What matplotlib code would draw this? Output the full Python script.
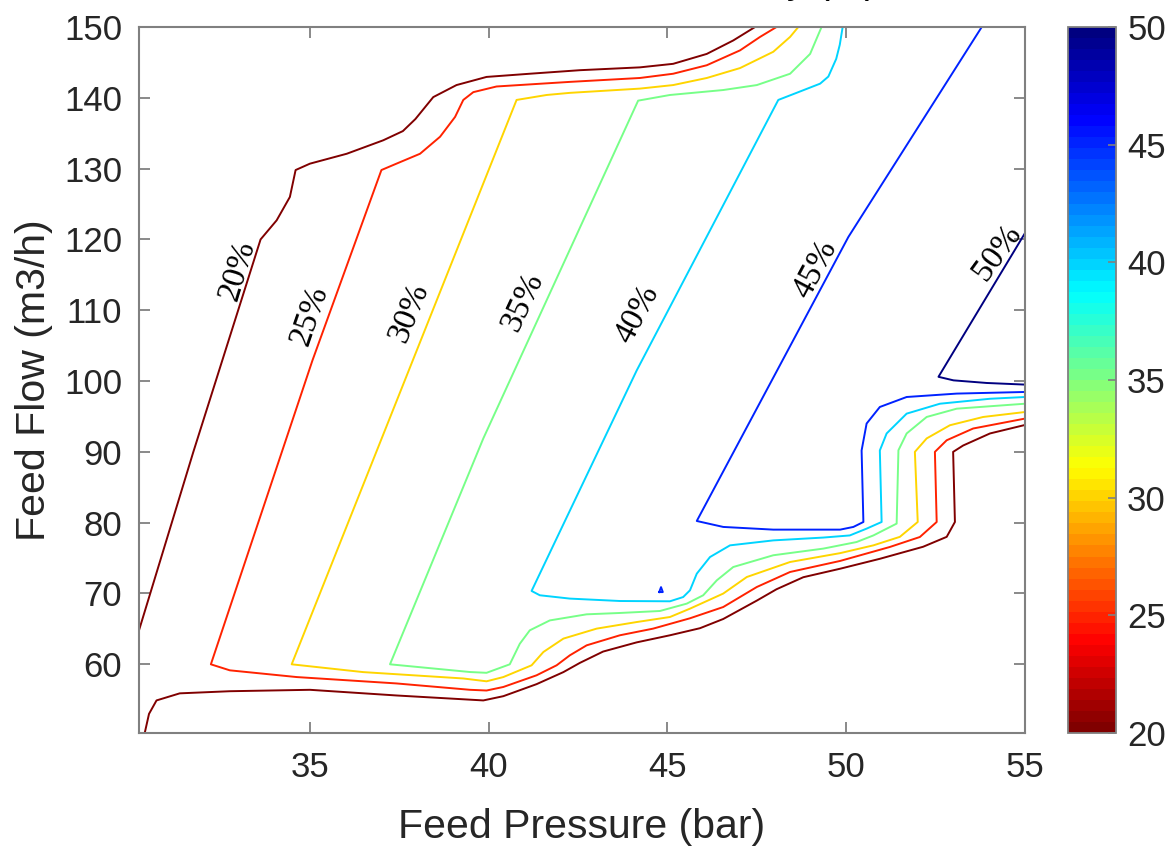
import numpy as np
import matplotlib
matplotlib.use("Agg")
import matplotlib.pyplot as plt
from matplotlib.colors import ListedColormap, Normalize
from matplotlib.cm import ScalarMappable

# ---------- Data (Feed Pressure [bar] vs Feed Flow [m3/h]) ----------
levels = [20, 25, 30, 35, 40, 45, 50]

c20a_x = [30.22, 31.74, 33.62, 34.07, 34.44, 34.60, 35.00, 36.03, 37.05, 37.60, 37.95, 38.45,
          39.10, 39.94, 41.15, 42.55, 44.23, 45.16, 46.10, 46.84, 47.45]
c20a_y = [64.8, 90.0, 120.0, 122.7, 126.0, 129.8, 130.7, 132.1, 134.0, 135.3, 137.0, 140.1,
          141.8, 142.95, 143.4, 143.9, 144.3, 144.8, 146.2, 148.1, 150.0]

c20b_x = [30.38, 30.50, 30.71, 31.36, 32.76, 35.00, 37.42, 39.85, 40.41, 41.34, 42.09, 42.55,
          43.20, 44.14, 45.07, 45.91, 46.56, 47.50, 48.05, 48.80, 49.83, 50.94, 52.15, 52.81,
          53.04, 52.99, 53.27, 54.02, 55.00]
c20b_y = [50.3, 53.0, 54.9, 55.9, 56.2, 56.4, 55.6, 54.9, 55.5, 57.2, 58.9, 60.2,
          61.8, 63.1, 64.1, 65.1, 66.4, 69.0, 70.6, 72.3, 73.5, 74.9, 76.6, 78.0,
          80.1, 90.0, 90.9, 92.6, 93.8]

c25_x = [48.05, 47.59, 47.03, 46.10, 45.16, 44.23, 42.27, 40.22, 39.57, 39.29, 39.06, 38.64,
         38.08, 37.42, 37.00, 35.07, 32.23, 32.76, 34.63, 37.42, 39.48, 39.94, 40.41, 41.34,
         41.90, 42.27, 42.74, 43.67, 44.60, 45.63, 46.56, 47.50, 48.43, 49.83, 51.22, 52.06,
         52.53, 52.48, 52.81, 53.55, 55.00]
c25_y = [150.0, 148.6, 146.7, 144.6, 143.4, 142.8, 142.25, 141.6, 140.8, 139.7, 137.3, 134.5,
         132.1, 130.7, 129.8, 102.9, 60.0, 59.15, 58.2, 57.3, 56.4, 56.3, 56.8, 58.45,
         59.86, 61.27, 62.68, 64.1, 65.04, 66.5, 68.09, 70.92, 73.04, 74.6, 76.57, 77.98,
         80.1, 90.0, 91.64, 93.3, 94.7]

c30_x = [48.66, 48.43, 47.96, 47.03, 46.10, 45.16, 44.23, 42.27, 41.62, 40.78, 34.49, 36.49,
         39.29, 39.94, 40.41, 41.20, 41.53, 42.09, 43.02, 44.14, 45.07, 45.63, 46.56, 47.22,
         48.43, 49.83, 50.76, 51.50, 52.00, 51.92, 52.25, 52.90, 53.83, 55.00]
c30_y = [150.0, 148.6, 146.5, 144.2, 142.8, 141.8, 141.3, 140.7, 140.4, 139.7, 60.0, 58.9,
         58.0, 57.6, 58.2, 59.86, 61.74, 63.63, 65.04, 65.97, 66.68, 67.86, 69.99, 72.33,
         74.45, 75.7, 76.8, 78.0, 80.1, 90.0, 91.9, 93.76, 94.93, 95.63]

c35_x = [49.31, 48.99, 48.43, 47.50, 46.56, 45.07, 44.18, 39.85, 37.24, 39.48, 39.94, 40.59,
         40.87, 41.15, 41.71, 42.74, 43.67, 44.79, 45.54, 46.00, 46.38, 46.84, 47.96, 49.36,
         50.29, 50.76, 51.41, 51.46, 51.69, 52.25, 53.09, 55.00]
c35_y = [150.0, 146.2, 143.4, 141.8, 141.1, 140.4, 139.6, 91.9, 60.0, 58.91, 58.8, 60.0,
         62.9, 64.8, 66.2, 67.06, 67.25, 67.53, 68.57, 69.75, 71.86, 73.74, 75.4, 76.34,
         77.27, 78.2, 79.87, 90.23, 92.6, 94.93, 96.1, 96.8]

c40_x = [49.90, 49.82, 49.72, 49.50, 49.27, 48.61, 48.10, 44.14, 41.20, 41.43, 42.27, 43.67,
         45.07, 45.44, 45.63, 45.82, 46.19, 46.75, 47.96, 49.36, 50.10, 50.57, 50.99, 50.94,
         51.13, 51.69, 52.62, 54.02, 55.00]
c40_y = [150.0, 147.5, 145.5, 143.0, 142.0, 140.7, 139.7, 101.5, 70.36, 69.75, 69.28, 68.94,
         68.9, 69.5, 70.45, 72.8, 75.15, 76.8, 77.5, 77.9, 78.2, 79.16, 80.1, 90.2,
         92.6, 95.4, 96.8, 97.5, 97.75]

c45_x = [53.79, 50.06, 45.82, 46.56, 47.96, 49.83, 50.20, 50.48, 50.43, 50.57, 50.94, 51.69,
         53.09, 55.00]
c45_y = [150.0, 120.35, 80.24, 79.4, 79.02, 79.02, 79.4, 80.1, 90.2, 94.0, 96.34, 97.75,
         98.23, 98.46]

# tiny closed 45% island near (44.8, 70.5)
c45b_x = [44.77, 44.87, 44.82, 44.77]
c45b_y = [70.2, 70.2, 70.9, 70.2]

c50_x = [55.00, 52.58, 53.00, 53.93, 55.00]
c50_y = [120.9, 100.6, 100.1, 99.73, 99.5]

lines = [
    (20, c20a_x, c20a_y), (20, c20b_x, c20b_y),
    (25, c25_x, c25_y), (30, c30_x, c30_y), (35, c35_x, c35_y),
    (40, c40_x, c40_y), (45, c45_x, c45_y), (45, c45b_x, c45b_y),
    (50, c50_x, c50_y),
]

label_text = ["20%", "25%", "30%", "35%", "40%", "45%", "50%"]
label_x = [32.97, 35.00, 37.77, 40.94, 44.16, 49.13, 54.23]
label_y = [115.6, 109.2, 109.6, 111.2, 109.4, 115.8, 118.2]
label_rot = [73, 71, 68, 65, 62, 62, 54]


def matlab_jet(n):
    t = np.linspace(0, 1, n)
    r = np.clip(1.5 - np.abs(4 * t - 3), 0, 1)
    g = np.clip(1.5 - np.abs(4 * t - 2), 0, 1)
    b = np.clip(1.5 - np.abs(4 * t - 1), 0, 1)
    return np.column_stack([r, g, b])


# ---------- Plotting ----------
cmap = ListedColormap(matlab_jet(64)[::-1])
norm = Normalize(vmin=20, vmax=50)

W, H = 1175, 852
fig = plt.figure(figsize=(W / 100, H / 100), dpi=100)
ax = fig.add_axes([139 / W, (H - 733) / H, (1025 - 139) / W, (733 - 27) / H])

for lev, xs, ys in lines:
    ax.plot(xs, ys, color=cmap(norm(lev)), lw=1.4, solid_joinstyle="round")

for t, x, y, r in zip(label_text, label_x, label_y, label_rot):
    ax.text(x, y, t, rotation=r, rotation_mode="anchor", ha="center", va="center",
            fontsize=24, family="Liberation Serif", color="black")

grey = "#808080"
txt = "#262626"
ax.set_xlim(30.22, 55)
ax.set_ylim(50.3, 150)
ax.set_xticks([35, 40, 45, 50, 55])
ax.set_yticks(range(60, 151, 10))
ax.tick_params(direction="in", length=8, width=1.3, color=grey, labelcolor=txt,
               labelsize=25, top=True, right=True)
ax.tick_params(axis="x", pad=13)
ax.tick_params(axis="y", pad=12)
for lab in ax.get_xticklabels() + ax.get_yticklabels():
    lab.set_family("Liberation Sans")
for s in ax.spines.values():
    s.set_color(grey)
    s.set_linewidth(1.5)

ax.set_xlabel("Feed Pressure (bar)", fontsize=29.5, family="Liberation Sans", color=txt, labelpad=17)
ax.set_ylabel("Feed Flow (m3/h)", fontsize=29.5, family="Liberation Sans", color=txt, labelpad=8)

# title sits above the visible area, only its descenders show
fig.text(877 / W, 1.0 + 7 / H, "Recovery (%)", ha="right", va="baseline", fontsize=28,
         family="Liberation Sans", color="black")

cax = fig.add_axes([1068 / W, (H - 733) / H, 48 / W, (733 - 27) / H])
cb = fig.colorbar(ScalarMappable(norm=norm, cmap=cmap), cax=cax, ticks=range(20, 51, 5))
cb.outline.set_edgecolor(grey)
cb.outline.set_linewidth(1.3)
cb.ax.tick_params(direction="in", length=6, width=1.2, color=grey, labelcolor=txt,
                  labelsize=25, pad=8)
for lab in cb.ax.get_yticklabels():
    lab.set_family("Liberation Sans")

fig.savefig("out.png", dpi=100)
